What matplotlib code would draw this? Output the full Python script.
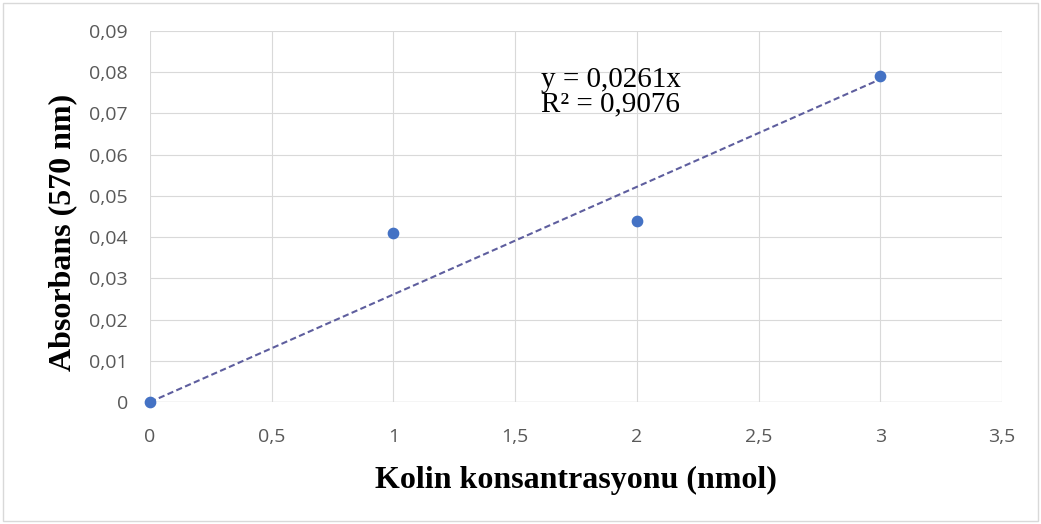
"""calibration curve: absorbance vs choline amount"""
import matplotlib
matplotlib.use('Agg')
import numpy as np
import matplotlib.pyplot as plt
from matplotlib.ticker import FuncFormatter, MultipleLocator

conc = [0, 1, 2, 3]               # nmol
absorb = [0.0, 0.041, 0.044, 0.079]
slope = 0.0261
r2 = 0.9076

def comma(v, pos):
    s = ('%.2f' % v).rstrip('0').rstrip('.')
    return s.replace('.', ',')

def comma1(v, pos):
    s = ('%.1f' % v).rstrip('0').rstrip('.')
    return s.replace('.', ',')

fig = plt.figure(figsize=(10.41, 5.24), dpi=100)
ax = fig.add_axes([0.1441, 0.2328, 0.8184, 0.708])

# outer chart border
fig.patches.append(plt.Rectangle((0.003, 0.005), 0.994, 0.99, transform=fig.transFigure,
                                 fill=False, edgecolor='#d9d9d9', linewidth=1.0))

xfit = np.array([conc[0], conc[-1]])
ax.plot(xfit, slope*xfit, color='#5e5e9e', linestyle=(0, (3, 1.6)), linewidth=1.5, zorder=2)
ax.scatter(conc, absorb, s=55, color='#4472c4', zorder=3, clip_on=False)

ax.set_xlim(0, 3.5)
ax.set_ylim(0, 0.09)
ax.xaxis.set_major_locator(MultipleLocator(0.5))
ax.yaxis.set_major_locator(MultipleLocator(0.01))
ax.xaxis.set_major_formatter(FuncFormatter(comma1))
ax.yaxis.set_major_formatter(FuncFormatter(comma))
ax.grid(True, color='#d9d9d9', linewidth=0.8)
ax.set_axisbelow(True)
for s in ax.spines.values():
    s.set_visible(False)
ax.axhline(0, color='#d9d9d9', linewidth=1.0, zorder=1)
ax.tick_params(length=0, labelsize=14, labelcolor='#595959')
ax.tick_params(axis='x', pad=19)
ax.tick_params(axis='y', pad=16)
for lab in ax.get_xticklabels() + ax.get_yticklabels():
    lab.set_family('Open Sans')

ax.set_xlabel('Kolin konsantrasyonu (nmol)', family='Liberation Serif', fontweight='bold',
              fontsize=23, labelpad=14)
ax.set_ylabel('Absorbans (570 nm)', family='Liberation Serif', fontweight='bold',
              fontsize=23)
ax.yaxis.set_label_coords(-0.085, 0.458)

ax.text(1.606, 0.0752, 'y = 0,0261x\nR² = 0,9076', family='Liberation Serif', fontsize=21,
        va='center', ha='left', linespacing=0.95)

plt.savefig('out.png', dpi=100)
